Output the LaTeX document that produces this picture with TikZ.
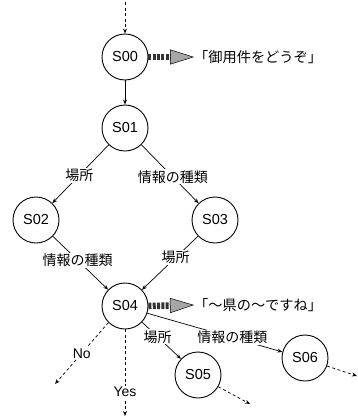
\documentclass[tikz,border=0pt]{standalone}
\usepackage{fontspec}
\setmainfont{Liberation Sans}
\newfontfamily\jp{Noto Sans CJK JP}
\usetikzlibrary{arrows.meta}
\begin{document}
\begin{tikzpicture}[x=1pt,y=-1pt,
  st/.style={circle,draw,line width=0.9pt,minimum size=46pt,inner sep=0pt,font=\fontsize{14.5}{16}\selectfont},
  lab/.style={fill=white,inner sep=1pt,font=\jp\fontsize{14}{16}\selectfont},
  elab/.style={fill=white,inner sep=1pt,font=\fontsize{14}{16}\selectfont},
  jptext/.style={inner sep=0pt,font=\jp\fontsize{14.2}{16}\selectfont},
  conn/.style={line width=0.7pt,-{Stealth[open,length=5pt,width=4pt]}},
  dconn/.style={conn,dash pattern=on 3pt off 2.5pt},
  big/.style={line width=6.5pt,dash pattern=on 3pt off 1.3pt,draw=black!80,
    -{Triangle[length=24pt,width=15pt,fill=gray!70,line width=0.5pt,color=black]}},
]
\useasboundingbox (0,0) rectangle (358,418);
\node[st] (s00) at (125,57) {S00};
\node[st] (s01) at (125,128) {S01};
\node[st] (s02) at (36,220) {S02};
\node[st] (s03) at (215,220) {S03};
\node[st] (s04) at (125,306) {S04};
\node[st] (s05) at (198,375) {S05};
\node[st] (s06) at (305,358) {S06};
\node[jptext,anchor=west] (t1) at (194,57) {「御用件をどうぞ」};
\node[jptext,anchor=west] (t2) at (194,305) {「〜県の〜ですね」};
\coordinate (in0) at (125,2);
\coordinate (yes) at (125,416);
\coordinate (no) at (55,384);
\coordinate (o5) at (250,404);
\coordinate (o6) at (357,376);
\draw[dconn] (in0) -- (s00);
\draw[conn] (s00) -- (s01);
\draw[big] (s00.east) -- (t1.west);
\draw[big] (s04.east) -- (t2.west);
\draw[conn] (s01) -- node[lab,pos=0.52]{場所} (s02);
\draw[conn] (s01) -- node[lab,pos=0.55]{情報の種類} (s03);
\draw[conn] (s02) -- node[lab,pos=0.45]{情報の種類} (s04);
\draw[conn] (s03) -- node[lab,pos=0.4]{場所} (s04);
\draw[conn] (s04) -- node[lab,pos=0.4]{場所} (s05);
\draw[conn] (s04.-18) -- node[lab,pos=0.63]{情報の種類} (s06.165);
\draw[dconn] (s04.225) -- node[elab,pos=0.5]{No} (no);
\draw[dconn] (s04.south) -- node[elab,pos=0.72]{Yes} (yes);
\draw[dconn] (s05.-30) -- (o5);
\draw[dconn] (s06.-20) -- (o6);
\end{tikzpicture}
\end{document}
